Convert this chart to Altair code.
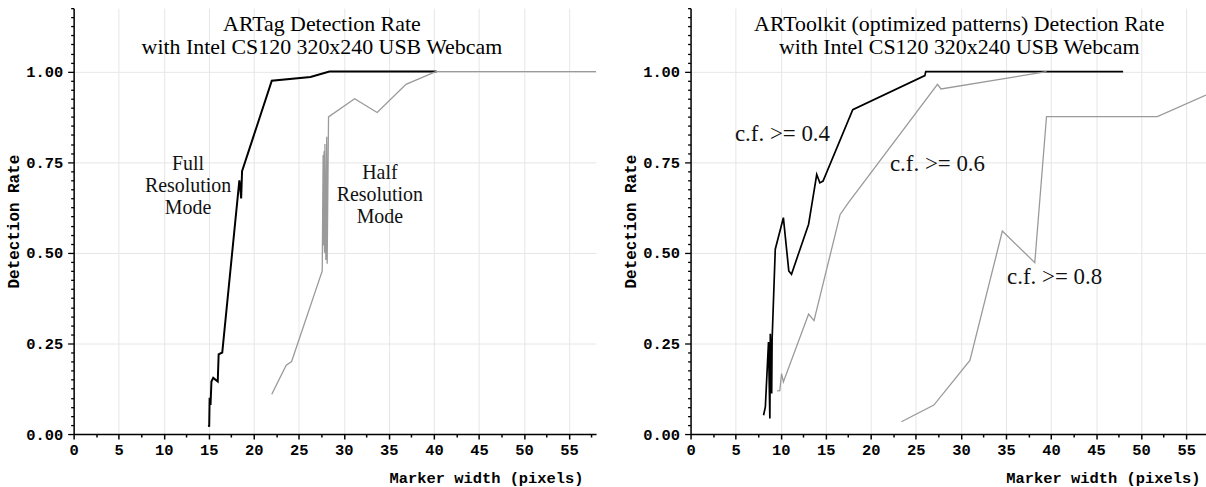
import altair as alt
import pandas as pd

# ---------------- data ----------------
# Left panel: ARTag
full_x = [15.0, 15.05, 15.1, 15.2, 15.3, 15.5, 16.0, 16.1, 16.5, 18.4, 18.5, 18.6, 18.7, 22.0, 26.3, 28.4, 40.3]
full_y = [0.025, 0.02, 0.10, 0.08, 0.145, 0.155, 0.145, 0.22, 0.225, 0.70, 0.68, 0.65, 0.725, 0.975, 0.985, 1.0, 1.0]

half_x = [22.0, 23.6, 24.2, 27.6, 27.7, 27.75, 27.8, 27.85, 27.9, 28.0, 28.1, 28.15, 28.3, 31.2, 33.7, 36.9, 40.2, 58.0]
half_y = [0.11, 0.19, 0.20, 0.45, 0.77, 0.52, 0.78, 0.50, 0.80, 0.48, 0.82, 0.47, 0.875, 0.925, 0.887, 0.965, 1.0, 1.0]

# Right panel: ARToolkit
cf4_x = [8.1, 8.3, 8.65, 8.8, 8.85, 9.0, 9.05, 9.4, 10.3, 10.9, 11.2, 13.1, 14.0, 14.35, 14.7, 18.0, 26.0, 26.1, 48.0]
cf4_y = [0.052, 0.075, 0.254, 0.043, 0.277, 0.112, 0.26, 0.51, 0.597, 0.45, 0.441, 0.579, 0.716, 0.693, 0.698, 0.895, 0.989, 1.0, 1.0]

cf6_x = [9.6, 9.9, 10.1, 10.3, 13.1, 13.7, 16.6, 17.5, 27.4, 27.8, 39.5]
cf6_y = [0.119, 0.12, 0.167, 0.144, 0.331, 0.313, 0.606, 0.638, 0.965, 0.952, 1.0]

cf8_x = [23.4, 27.0, 31.0, 34.6, 38.2, 39.5, 51.8, 57.2]
cf8_y = [0.034, 0.08, 0.203, 0.56, 0.473, 0.876, 0.876, 0.935]

# annotations (first line anchored at y)
left_notes = ["Full\nResolution\nMode", "Half\nResolution\nMode"]
left_note_x = [12.7, 34.0]
left_note_y = [0.745, 0.72]
right_notes = ["c.f. >= 0.4", "c.f. >= 0.6", "c.f. >= 0.8"]
right_note_x = [10.2, 27.4, 40.4]
right_note_y = [0.828, 0.744, 0.432]

# axis tick values
x_ticks = [i * 2.5 for i in range(24)]
y_ticks = [round(i * 0.025, 3) for i in range(48)]

left_title = ["ARTag Detection Rate", "with Intel CS120 320x240 USB Webcam"]
right_title = ["ARToolkit (optimized patterns) Detection Rate", "with Intel CS120 320x240 USB Webcam"]

MONO = "Liberation Mono"
SERIF = "Liberation Serif"
GRAY = "#9a9a9a"
GRID = "#e6e6e6"
Y_TOP = 1.175
PX_PER_X = 9.06
PLOT_H = 428

X_MAJOR = "abs(datum.value / 5 - round(datum.value / 5)) < 0.001"
Y_MAJOR = "abs(datum.value * 4 - round(datum.value * 4)) < 0.001 && datum.value <= 1.001"


def df_of(xs, ys):
    return pd.DataFrame({"x": xs, "y": ys, "order": list(range(len(xs)))})


def panel(series, notes, xmax, title_lines, title_dx, note_size):
    width = round(xmax * PX_PER_X)
    xs = alt.Scale(domain=[0, xmax], nice=False, zero=False)
    ys = alt.Scale(domain=[0, Y_TOP], nice=False)

    x_axis = alt.Axis(values=x_ticks, orient="bottom", title="Marker width (pixels)",
                      labelExpr=f"({X_MAJOR}) ? datum.label : ''",
                      grid=True, gridColor=GRID, gridWidth=1,
                      gridOpacity={"condition": {"test": X_MAJOR, "value": 1}, "value": 0},
                      tickSize={"condition": {"test": X_MAJOR, "value": 5}, "value": 3},
                      tickWidth=1.5, tickColor="black",
                      domainColor="black", domainWidth=1.5,
                      labelFont=MONO, labelFontSize=15.5, labelFontWeight="bold",
                      labelColor="black", labelPadding=4, labelFlush=False,
                      labelOverlap=False,
                      titleFont=MONO, titleFontSize=15.5, titleFontWeight="bold",
                      titleColor="black", titleAnchor="end", titleAlign="right",
                      titleX=512, titlePadding=12)
    y_axis = alt.Axis(values=y_ticks, orient="left", title="Detection Rate",
                      labelExpr=f"({Y_MAJOR}) ? format(datum.value, '.2f') : ''",
                      grid=True, gridColor=GRID, gridWidth=1,
                      gridOpacity={"condition": {"test": Y_MAJOR, "value": 1}, "value": 0},
                      tickSize={"condition": {"test": Y_MAJOR, "value": 6}, "value": 3},
                      tickWidth=1.3, tickColor="black",
                      domainColor="black", domainWidth=1.5,
                      labelFont=MONO, labelFontSize=15.5, labelFontWeight="bold",
                      labelColor="black", labelPadding=5, labelOverlap=False,
                      titleFont=MONO, titleFontSize=16, titleFontWeight="bold",
                      titleColor="black", titlePadding=4)

    layers = []
    for sx, sy, color, sw in series:
        layers.append(alt.Chart(df_of(sx, sy)).mark_line(color=color, strokeWidth=sw, clip=True).encode(
            x=alt.X("x:Q", scale=xs, axis=x_axis),
            y=alt.Y("y:Q", scale=ys, axis=y_axis),
            order="order:Q"))

    nx, ny, nt = notes
    note_df = pd.DataFrame({"x": nx, "y": ny, "t": nt})
    layers.append(alt.Chart(note_df).mark_text(font=SERIF, fontSize=note_size, lineBreak="\n",
                                               lineHeight=22, align="center", baseline="middle",
                                               color="#111").encode(
        x=alt.X("x:Q", scale=xs, axis=x_axis),
        y=alt.Y("y:Q", scale=ys, axis=y_axis),
        text="t:N"))

    # chart title drawn inside the plot area, as in the reference
    title_df = pd.DataFrame({"t": ["\n".join(title_lines)]})
    layers.append(alt.Chart(title_df).mark_text(font=SERIF, fontSize=22, lineBreak="\n",
                                                lineHeight=23, align="center", baseline="top",
                                                color="black").encode(
        x=alt.value(width / 2 + title_dx), y=alt.value(6), text="t:N"))

    return alt.layer(*layers).properties(width=width, height=PLOT_H)


left = panel(
    [(full_x, full_y, "black", 2.0), (half_x, half_y, GRAY, 1.3)],
    (left_note_x, left_note_y, left_notes), 58.0, left_title, -13, 20)
right = panel(
    [(cf4_x, cf4_y, "black", 1.7), (cf6_x, cf6_y, GRAY, 1.3), (cf8_x, cf8_y, GRAY, 1.3)],
    (right_note_x, right_note_y, right_notes), 57.2, right_title, 11, 23)

chart = alt.hconcat(left, right, spacing=26).properties(
    padding={"left": 5, "top": 0, "right": 0, "bottom": 0},
    background="white",
).configure_view(stroke=None)

chart.save("out.html", embed_options={"renderer": "svg", "actions": False})
